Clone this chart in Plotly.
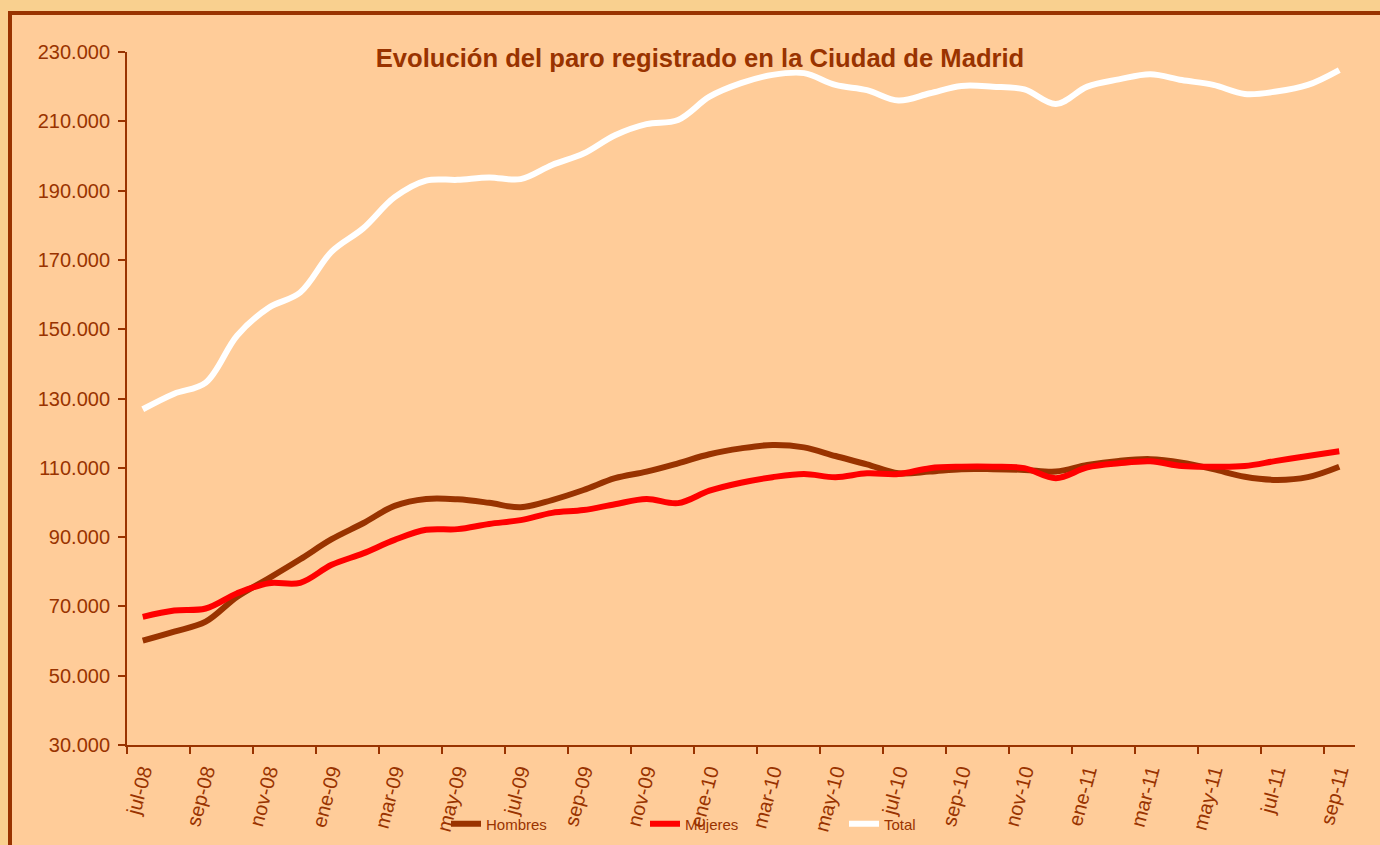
import plotly.graph_objects as go

# ---- data ----
months = ["jul-08", "ago-08", "sep-08", "oct-08", "nov-08", "dic-08",
          "ene-09", "feb-09", "mar-09", "abr-09", "may-09", "jun-09",
          "jul-09", "ago-09", "sep-09", "oct-09", "nov-09", "dic-09",
          "ene-10", "feb-10", "mar-10", "abr-10", "may-10", "jun-10",
          "jul-10", "ago-10", "sep-10", "oct-10", "nov-10", "dic-10",
          "ene-11", "feb-11", "mar-11", "abr-11", "may-11", "jun-11",
          "jul-11", "ago-11", "sep-11"]

hombres = [60100, 62700, 65600, 72800, 78100, 83600, 89400, 94000, 99000, 101000,
           100900, 99900, 98600, 100700, 103600, 107000, 108900, 111300, 113900, 115600,
           116600, 115900, 113400, 111000, 108400, 108900, 109600, 109600, 109400, 108900,
           110800, 112000, 112500, 111500, 109600, 107400, 106500, 107300, 110300]

mujeres = [67000, 68800, 69400, 73800, 76700, 76800, 82000, 85300, 89200, 92100,
           92300, 93800, 94900, 97000, 97800, 99500, 101000, 99800, 103400, 105700,
           107300, 108200, 107300, 108400, 108200, 109900, 110300, 110300, 109900, 107000,
           110100, 111300, 111900, 110500, 110300, 110500, 112000, 113400, 114800]

total = [126900, 131400, 134600, 148200, 156200, 160600, 172400, 179100, 188100, 192900,
         193100, 193800, 193300, 197400, 200700, 206000, 209200, 210400, 217100, 221000,
         223400, 223900, 220500, 219000, 216000, 218100, 220200, 220000, 219200, 215000,
         220000, 222100, 223600, 221900, 220500, 217900, 218600, 220500, 224800]

series_names = ["Hombres", "Mujeres", "Total"]
series_colors = ["#993300", "#FF0000", "#FFFFFF"]

y_ticks = list(range(30000, 230001, 20000))

# ---- figure ----
BROWN = "#993300"
FONT = "Liberation Sans, Arial, sans-serif"

idx = list(range(len(months)))
fig = go.Figure()
for name, vals, col in zip(series_names, [hombres, mujeres, total], series_colors):
    fig.add_trace(go.Scatter(
        x=idx, y=vals, name=name, mode="lines",
        line=dict(color=col, width=6, shape="spline", smoothing=1),
        hoverinfo="x+y+name",
    ))

label_idx = idx[::2]
fig.update_layout(
    width=1380, height=845,
    margin=dict(l=127, r=25, t=52, b=100),
    paper_bgcolor="#F9D08F",
    plot_bgcolor="rgba(0,0,0,0)",
    separators=",.",
    font=dict(family=FONT, color=BROWN, size=20),
    title=dict(
        text="<b>Evolución del paro registrado en la Ciudad de Madrid</b>",
        x=700 / 1380, xref="container", xanchor="center",
        y=1 - 58 / 845, yref="container", yanchor="middle",
        font=dict(family=FONT, size=25.6, color=BROWN),
    ),
    showlegend=True,
    legend=dict(
        orientation="h",
        xref="container", yref="container",
        x=446 / 1380, xanchor="left",
        y=1 - 824 / 845, yanchor="middle",
        bgcolor="rgba(0,0,0,0)",
        font=dict(family=FONT, size=15, color=BROWN),
        entrywidth=154, entrywidthmode="pixels",
        traceorder="normal",
    ),
    shapes=[dict(
        type="rect", xref="paper", yref="paper", layer="below",
        x0=(10 - 127) / 1228, x1=(1420 - 127) / 1228,
        y0=(745 - 880) / 693, y1=(745 - 13) / 693,
        fillcolor="#FFCC99", line=dict(color=BROWN, width=4),
    )],
)

fig.update_xaxes(
    range=[-0.5, len(months) - 0.5],
    tickmode="array", tickvals=label_idx, ticktext=[months[i] for i in label_idx],
    tickangle=-75,
    ticks="outside", ticklen=5, tickcolor="rgba(0,0,0,0)",
    tickfont=dict(family=FONT, size=20, color=BROWN),
    showline=True, linecolor=BROWN, linewidth=2,
    showgrid=False, zeroline=False, automargin=False,
    minor=dict(tickmode="linear", tick0=-0.5, dtick=2, ticks="outside",
               ticklen=7, tickwidth=2, tickcolor=BROWN, showgrid=False),
)
fig.update_yaxes(
    range=[30000, 230000],
    tickmode="array", tickvals=y_ticks, tickformat=",.0f",
    ticks="outside", ticklen=7, tickwidth=2, tickcolor=BROWN,
    ticklabelstandoff=4,
    tickfont=dict(family=FONT, size=20, color=BROWN),
    showline=True, linecolor=BROWN, linewidth=2,
    showgrid=False, zeroline=False, automargin=False,
)

fig.write_html(
    "out.html",
    config={"displayModeBar": False},
    post_script="document.body.style.margin='0';document.body.style.overflow='hidden';",
)
